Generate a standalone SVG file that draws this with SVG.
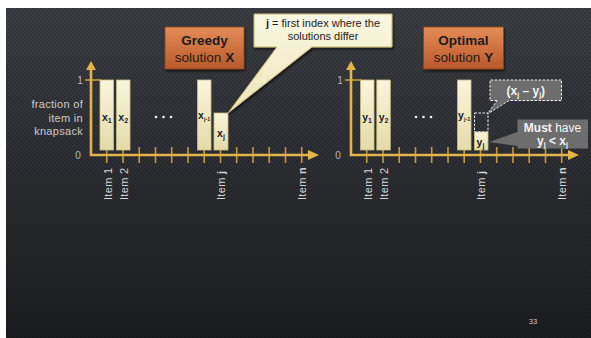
<svg xmlns="http://www.w3.org/2000/svg" width="591" height="338" viewBox="0 0 591 338">
<defs>
<linearGradient id="bg" x1="0" y1="0" x2="0" y2="1">
<stop offset="0" stop-color="#3b3e44"/>
<stop offset="0.55" stop-color="#2a2c30"/>
<stop offset="1" stop-color="#1c1d20"/>
</linearGradient>
<pattern id="tex" width="4" height="4" patternUnits="userSpaceOnUse">
<rect x="0" y="0" width="2" height="2" fill="#000" opacity="0.12"/>
<rect x="2" y="2" width="2" height="2" fill="#000" opacity="0.12"/>
</pattern>
<linearGradient id="bar" x1="0" y1="0" x2="0" y2="1">
<stop offset="0" stop-color="#faf6dc"/>
<stop offset="1" stop-color="#e3dbaa"/>
</linearGradient>
<linearGradient id="title" x1="0" y1="0" x2="0" y2="1">
<stop offset="0" stop-color="#e48c58"/>
<stop offset="1" stop-color="#b9582a"/>
</linearGradient>
<linearGradient id="note" x1="0" y1="0" x2="0" y2="1">
<stop offset="0" stop-color="#fbf8e2"/>
<stop offset="1" stop-color="#ece4b8"/>
</linearGradient>
<g id="axes">
<g class="tick">
<line x1="106.7" y1="147" x2="106.7" y2="163"/>
<line x1="123" y1="147" x2="123" y2="163"/>
<line x1="139.2" y1="147" x2="139.2" y2="163"/>
<line x1="155.5" y1="147" x2="155.5" y2="163"/>
<line x1="171.7" y1="147" x2="171.7" y2="163"/>
<line x1="188" y1="147" x2="188" y2="163"/>
<line x1="204.2" y1="147" x2="204.2" y2="163"/>
<line x1="220.5" y1="147" x2="220.5" y2="163"/>
<line x1="236.7" y1="147" x2="236.7" y2="163"/>
<line x1="253" y1="147" x2="253" y2="163"/>
<line x1="269.2" y1="147" x2="269.2" y2="163"/>
<line x1="285.5" y1="147" x2="285.5" y2="163"/>
<line x1="301.7" y1="147" x2="301.7" y2="163"/>
<line x1="85" y1="80" x2="101" y2="80"/>
</g>
<path class="axis" d="M91,69 V155 H309"/>
<polygon class="axfill" points="91,61 86,70 96,70"/>
<polygon class="axfill" points="319,155 308,150 308,160"/>
<text class="num" x="80" y="84" text-anchor="middle">1</text>
<text class="num" x="78" y="159" text-anchor="middle">0</text>
<g class="dots"><circle cx="156" cy="117" r="1.3"/><circle cx="163.5" cy="117" r="1.3"/><circle cx="171" cy="117" r="1.3"/></g>
<text class="item" transform="translate(111.5,200) rotate(-90)">Item 1</text>
<text class="item" transform="translate(128,200) rotate(-90)">Item 2</text>
<text class="item" transform="translate(225,200) rotate(-90)">Item <tspan font-weight="bold">j</tspan></text>
<text class="item" transform="translate(306,200) rotate(-90)">Item <tspan font-weight="bold">n</tspan></text>
</g>
<filter id="sh" x="-10%" y="-10%" width="130%" height="140%">
<feDropShadow dx="1" dy="2" stdDeviation="1.2" flood-color="#000" flood-opacity="0.6"/>
</filter>
</defs>
<style>
text{font-family:"Liberation Sans","DejaVu Sans",sans-serif;}
.axis{fill:none;stroke:#e3b548;stroke-width:2.6;}
.axfill{fill:#e3b548;}
.tick line{stroke:#d9ad45;stroke-width:1.6;stroke-opacity:0.85;}
.num{font-size:10px;fill:#b8b8b8;}
.item{font-size:11px;fill:#d4d4d4;letter-spacing:0.3px;}
.dots circle{fill:#f0f0f0;}
.bar{fill:url(#bar);stroke:#cdbd7e;stroke-width:0.8;}
.bl{font-size:10.5px;font-weight:bold;fill:#222;text-anchor:middle;}
.sub{font-size:7px;}
.ylab{font-size:11px;fill:#cacaca;text-anchor:end;letter-spacing:0.3px;}
.tbox{fill:url(#title);stroke:#8c4420;stroke-width:0.8;filter:url(#sh);}
.ttl{font-size:13.5px;fill:#1c1c1c;text-anchor:middle;}
.gbox{fill:#6d6d6d;}
.wt{fill:#f4f4f4;text-anchor:middle;font-size:12px;}
.dash{fill:none;stroke:#f0f0f0;stroke-width:1;stroke-dasharray:2.5,1.5;}
</style>
<rect x="6" y="8" width="585" height="330" fill="url(#bg)"/>
<rect x="6" y="8" width="585" height="330" fill="url(#tex)"/>

<g id="connectors">
<use href="#axes"/>
<use href="#axes" transform="translate(260,0)"/>
</g>

<g id="ylabel">
<text class="ylab" x="83" y="108">fraction of</text>
<text class="ylab" x="83" y="121.5">item in</text>
<text class="ylab" x="83" y="135">knapsack</text>
</g>

<g id="greedy-bars">
<rect class="bar" x="100" y="80" width="13.5" height="70"/>
<text class="bl" x="106.8" y="121">x<tspan class="sub" dy="2">1</tspan></text>
<rect class="bar" x="116.5" y="80" width="13.5" height="70"/>
<text class="bl" x="123.2" y="121">x<tspan class="sub" dy="2">2</tspan></text>
<rect class="bar" x="197.5" y="80" width="13.5" height="70"/>
<text class="bl" x="204.2" y="119" font-size="8">x<tspan font-size="5.5" dy="2">j-1</tspan></text>
<rect class="bar" x="214" y="113" width="14" height="37"/>
<text class="bl" x="221" y="137">x<tspan class="sub" dy="2">j</tspan></text>
</g>

<g id="optimal-bars">
<rect class="bar" x="360.5" y="80" width="13.5" height="70"/>
<text class="bl" x="367" y="121">y<tspan class="sub" dy="2">1</tspan></text>
<rect class="bar" x="376.8" y="80" width="13.5" height="70"/>
<text class="bl" x="383.5" y="121">y<tspan class="sub" dy="2">2</tspan></text>
<rect class="bar" x="457.5" y="80" width="13.5" height="70"/>
<text class="bl" x="464.2" y="119" font-size="8">y<tspan font-size="5.5" dy="2">j-1</tspan></text>
<rect class="bar" x="474.5" y="132" width="13.5" height="18"/>
<text class="bl" x="480.5" y="146">y<tspan class="sub" dy="2">j</tspan></text>
<rect class="dash" x="474.5" y="113" width="13.5" height="19"/>
</g>

<g id="greedy-title">
<rect class="tbox" x="165" y="27" width="79" height="42"/>
<text class="ttl" x="204.5" y="45" font-weight="bold">Greedy</text>
<text class="ttl" x="204.5" y="61.5">solution <tspan font-weight="bold">X</tspan></text>
</g>

<g id="optimal-title">
<rect class="tbox" x="423.5" y="27" width="80" height="42"/>
<text class="ttl" x="463.5" y="45" font-weight="bold">Optimal</text>
<text class="ttl" x="463.5" y="61.5">solution <tspan font-weight="bold">Y</tspan></text>
</g>

<g id="j-callout">
<path d="M254,14 H392 V47 H312 L228,113 L277,47 H254 Z" fill="url(#note)" stroke="#c9b976" stroke-width="1" filter="url(#sh)"/>
<text x="323" y="27" text-anchor="middle" font-size="11" fill="#222"><tspan font-weight="bold">j</tspan> = first index where the</text>
<text x="323" y="40" text-anchor="middle" font-size="11" fill="#222">solutions differ</text>
</g>

<g id="diff-callout">
<path class="gbox" d="M490,80 H561.5 V100.5 H509 L487.5,114 L497,100.5 H490 Z"/>
<path class="dash" d="M497,100.5 H490 V80 H561.5 V100.5 H509 L487.5,114 L497,100.5"/>
<text class="wt" x="525.8" y="94.5" font-weight="bold">(x<tspan class="sub" dy="2.5">j</tspan><tspan dy="-2.5"> – y</tspan><tspan class="sub" dy="2.5">j</tspan><tspan dy="-2.5">)</tspan></text>
</g>

<g id="must-callout">
<path class="gbox" d="M517.5,119.5 H588 V148.5 H517.5 V146 L489,142 L517.5,132 Z"/>
<text class="wt" x="552.5" y="132"><tspan font-weight="bold">Must</tspan> have</text>
<text class="wt" x="552.5" y="144.5" font-weight="bold">y<tspan class="sub" dy="2.5">j</tspan><tspan dy="-2.5"> &lt; x</tspan><tspan class="sub" dy="2.5">j</tspan></text>
</g>

<text x="533" y="324" text-anchor="middle" font-size="7.5" fill="#c8c8c8">33</text>
</svg>
